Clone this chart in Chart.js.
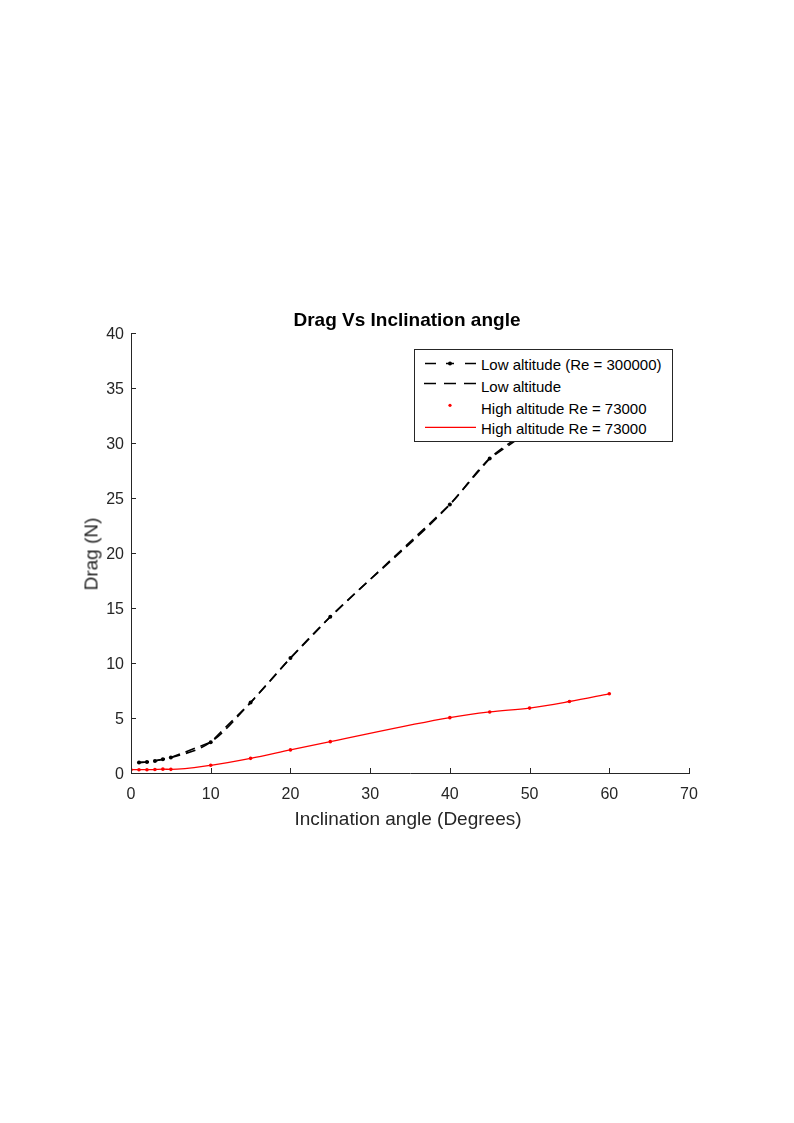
<!DOCTYPE html>
<html><head><meta charset="utf-8">
<script src="https://cdn.jsdelivr.net/npm/chart.js@4.4.1/dist/chart.umd.min.js"></script>
<style>
html,body{margin:0;padding:0;background:#fff;}
#wrap{position:relative;width:794px;height:1123px;overflow:hidden;}
#c{position:absolute;left:0;top:0;}
.t{position:absolute;font-family:'Liberation Sans',Arial,sans-serif;white-space:nowrap;line-height:19px;font-size:19px;transform:translate(-50%,-50%);}
#title{left:407px;top:319px;font-weight:bold;color:#000;}
#xt{left:408px;top:818.3px;color:#262626;}
#yt{left:91px;top:553.5px;color:#262626;transform:translate(-50%,-50%) rotate(-90deg);}
#legend{position:absolute;left:414px;top:349px;width:257px;height:91px;border:1px solid #262626;background:#fff;font-family:'Liberation Sans',Arial,sans-serif;font-size:15px;color:#000;}
#legend .row{position:absolute;left:66px;line-height:15px;white-space:nowrap;}
#legend svg{position:absolute;left:0;top:0;}
</style>
</head><body>
<div id="wrap">
<canvas id="c" width="794" height="1123"></canvas>
<div class="t" id="title">Drag Vs Inclination angle</div>
<div class="t" id="xt">Inclination angle (Degrees)</div>
<div class="t" id="yt">Drag (N)</div>
<div id="legend">
<svg width="257" height="91">
<g stroke="#000" stroke-width="1.5">
<line x1="10" y1="13.5" x2="21" y2="13.5"/>
<line x1="31" y1="13.5" x2="39" y2="13.5"/>
<line x1="50" y1="13.5" x2="61" y2="13.5"/>
<line x1="9" y1="33.5" x2="21" y2="33.5"/>
<line x1="29" y1="33.5" x2="41" y2="33.5"/>
<line x1="49" y1="33.5" x2="61" y2="33.5"/>
</g>
<circle cx="35" cy="13.5" r="2" fill="#000"/>
<circle cx="35" cy="55.3" r="1.6" fill="#ff0000"/>
<line x1="10" y1="77.3" x2="61" y2="77.3" stroke="#ff0000" stroke-width="1.2"/>
</svg>
<div class="row" style="top:7.2px">Low altitude (Re = 300000)</div>
<div class="row" style="top:29px">Low altitude</div>
<div class="row" style="top:51.2px">High altitude Re = 73000</div>
<div class="row" style="top:71.2px">High altitude Re = 73000</div>
</div>
</div>
<script>
// Data
const anglesLow = [1, 2, 3, 4, 5, 10, 15, 20, 25, 40, 45, 50, 55, 60];
const dragLow   = [0.95, 1.0, 1.1, 1.25, 1.4, 2.8, 6.4, 10.45, 14.2, 24.4, 28.6, 31.1, 33.0, 34.5];
const anglesHigh = [0, 1, 2, 3, 4, 5, 10, 15, 20, 25, 40, 45, 50, 55, 60];
const dragHigh   = [0.3, 0.3, 0.3, 0.32, 0.35, 0.33, 0.7, 1.33, 2.1, 2.85, 5.03, 5.55, 5.9, 6.5, 7.2];
const xTickValues = [0, 10, 20, 30, 40, 50, 60, 70];
const yTickValues = [0, 5, 10, 15, 20, 25, 30, 35, 40];
const seriesNames = ['Low altitude (Re = 300000)', 'Low altitude', 'High altitude Re = 73000', 'High altitude Re = 73000'];

const pts = (xs, ys) => xs.map((x, i) => ({x: x, y: ys[i]}));
const AXIS = '#262626';
const FONT = "'Liberation Sans', Arial, sans-serif";

const inwardTicks = {
  id: 'inwardTicks',
  afterDraw(chart) {
    const ctx = chart.ctx, a = chart.chartArea;
    const xs = chart.scales.x, ys = chart.scales.y;
    ctx.save();
    ctx.strokeStyle = AXIS;
    ctx.lineWidth = 1;
    ctx.beginPath();
    xTickValues.forEach(v => {
      const p = Math.round(xs.getPixelForValue(v)) + 0.5;
      ctx.moveTo(p, a.bottom); ctx.lineTo(p, a.bottom - 5);
    });
    yTickValues.forEach(v => {
      const p = Math.round(ys.getPixelForValue(v)) + 0.5;
      ctx.moveTo(a.left, p); ctx.lineTo(a.left + 5, p);
    });
    ctx.stroke();
    ctx.restore();
  }
};

new Chart(document.getElementById('c'), {
  type: 'scatter',
  data: {
    datasets: [
      { label: seriesNames[0], data: pts(anglesLow, dragLow), showLine: true,
        borderColor: '#000', backgroundColor: '#000', borderWidth: 1.6, borderDash: [10, 6],
        pointRadius: 2, pointBorderWidth: 0, pointBackgroundColor: '#000', tension: 0 },
      { label: seriesNames[1], data: pts(anglesLow, dragLow), showLine: true,
        borderColor: '#000', borderWidth: 1.6, borderDash: [10, 6],
        pointRadius: 0, cubicInterpolationMode: 'monotone' },
      { label: seriesNames[2], data: pts(anglesHigh, dragHigh), showLine: false,
        pointRadius: 1.8, pointBorderWidth: 0, pointBackgroundColor: '#ff0000', borderColor: '#ff0000' },
      { label: seriesNames[3], data: pts(anglesHigh, dragHigh), showLine: true,
        borderColor: '#ff0000', borderWidth: 1.3, pointRadius: 0, cubicInterpolationMode: 'monotone' }
    ]
  },
  options: {
    responsive: false,
    animation: false,
    devicePixelRatio: 1,
    layout: { padding: { left: 0, top: 333, right: 105, bottom: 0 } },
    plugins: { legend: { display: false }, tooltip: { enabled: false }, title: { display: false } },
    scales: {
      x: {
        type: 'linear', min: 0, max: 70,
        afterBuildTicks: s => { s.ticks = xTickValues.map(v => ({value: v})); },
        afterFit: s => { s.height = 350; },
        ticks: { color: AXIS, font: { family: FONT, size: 16 }, padding: 12, maxRotation: 0 },
        grid: { drawOnChartArea: false, drawTicks: false },
        border: { display: true, color: AXIS, width: 1 }
      },
      y: {
        type: 'linear', min: 0, max: 40,
        afterBuildTicks: s => { s.ticks = yTickValues.map(v => ({value: v})); },
        afterFit: s => { s.width = 131; },
        ticks: { color: AXIS, font: { family: FONT, size: 16 }, padding: 7, labelOffset: 1.5 },
        grid: { drawOnChartArea: false, drawTicks: false },
        border: { display: true, color: AXIS, width: 1 }
      }
    }
  },
  plugins: [inwardTicks]
});
</script>
</body></html>
